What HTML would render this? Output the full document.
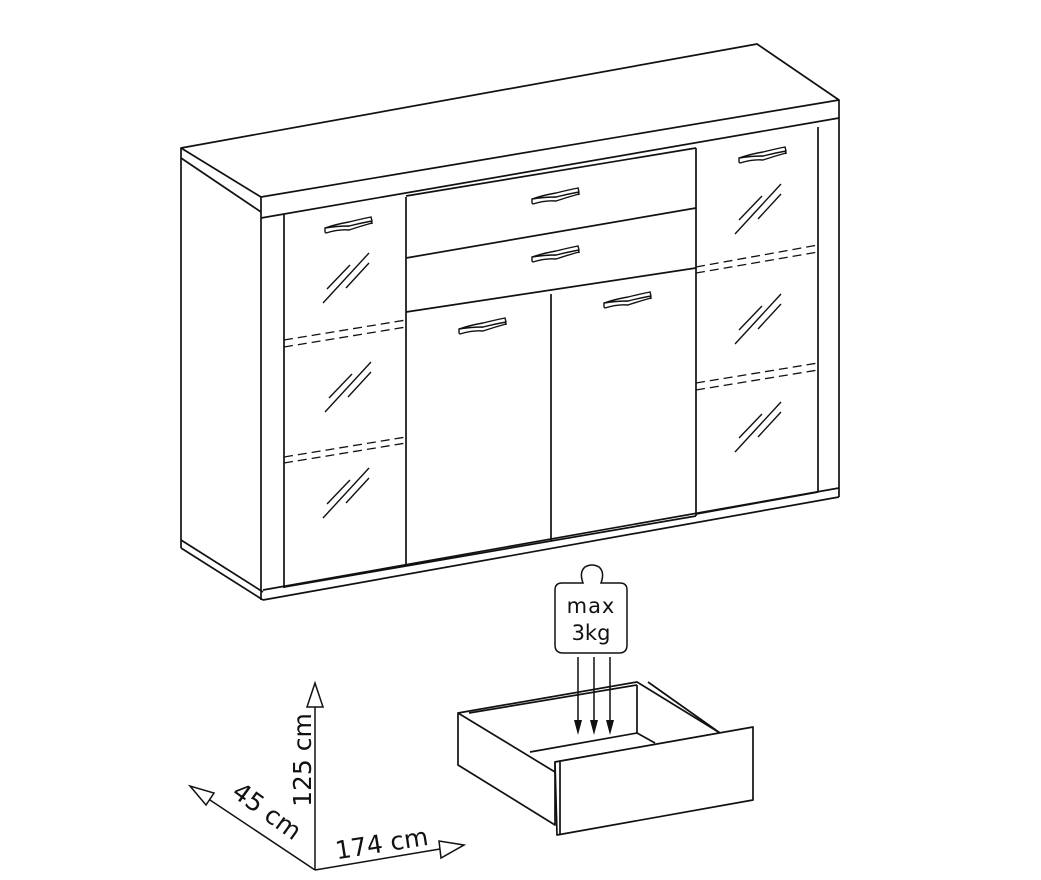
<!DOCTYPE html>
<html><head><meta charset="utf-8"><style>
html,body{margin:0;padding:0;background:#fff;}
svg{display:block}
text{font-family:"DejaVu Sans","Liberation Sans",sans-serif;fill:#111}
</style></head><body>
<svg width="1041" height="880" viewBox="0 0 1041 880" xmlns="http://www.w3.org/2000/svg">
<defs>
<g id="hatch" stroke="#111" stroke-width="1.4" fill="none">
<line x1="0" y1="50" x2="46" y2="0"/>
<line x1="4" y1="36" x2="27" y2="12"/>
<line x1="23" y1="35" x2="46" y2="10"/>
</g>
<g id="handle" stroke="#111" stroke-width="1.4" fill="#fff">
<path d="M0,8 L0,4 Q14,1 24,2 Q36,-2 46,-4 L47,0 L47,-1 Q36,2 24,6 Q14,5 1,9 Z"/>
<path d="M0,4 Q12,0 24,-2 Q36,-5 46,-7 L47,-3 Q36,-1 24,2 Q12,2 0,4 Z"/>
</g>
</defs>
<g stroke="#111" stroke-width="1.7" fill="none" stroke-linejoin="round">
<polygon points="181,148 757,44 839,100 261,197"/>
<line x1="839" y1="100" x2="839" y2="118"/>
<line x1="261" y1="197" x2="261" y2="600"/>
<line x1="261" y1="218" x2="839" y2="118"/>
<line x1="181" y1="148" x2="181" y2="548"/>
<line x1="181" y1="158" x2="261" y2="212"/>
<line x1="181" y1="540" x2="263" y2="592"/>
<line x1="181" y1="548" x2="263" y2="600"/>
<line x1="263" y1="600" x2="839" y2="497"/>
<line x1="263" y1="590" x2="839" y2="488"/>
<line x1="839" y1="118" x2="839" y2="497"/>
<line x1="284" y1="214" x2="284" y2="588"/>
<line x1="406" y1="197" x2="406" y2="566"/>
<line x1="551" y1="294" x2="551" y2="541"/>
<line x1="696" y1="148" x2="696" y2="516"/>
<line x1="818" y1="127" x2="818" y2="492"/>
<line x1="406" y1="258" x2="696" y2="208"/>
<line x1="406" y1="312" x2="696" y2="268"/>
<line x1="406" y1="196" x2="696" y2="148"/>
<line x1="406" y1="566" x2="696" y2="516"/>
<line x1="284" y1="587" x2="406" y2="566"/>
<line x1="696" y1="514" x2="818" y2="492"/>
<g stroke-dasharray="9,5" stroke-width="1.3">
<line x1="284" y1="340" x2="406" y2="320"/>
<line x1="284" y1="347" x2="406" y2="327"/>
<line x1="284" y1="457" x2="406" y2="437"/>
<line x1="284" y1="463" x2="406" y2="443"/>
<line x1="696" y1="267" x2="818" y2="245"/>
<line x1="696" y1="273" x2="818" y2="252"/>
<line x1="696" y1="383" x2="818" y2="363"/>
<line x1="696" y1="390" x2="818" y2="370"/>
</g>
</g>
<use href="#hatch" x="323" y="253"/>
<use href="#hatch" x="325" y="362"/>
<use href="#hatch" x="323" y="468"/>
<use href="#hatch" x="735" y="184"/>
<use href="#hatch" x="735" y="294"/>
<use href="#hatch" x="735" y="402"/>
<use href="#handle" x="325" y="224"/>
<use href="#handle" x="532" y="195"/>
<use href="#handle" x="532" y="253"/>
<use href="#handle" x="459" y="325"/>
<use href="#handle" x="604" y="299"/>
<use href="#handle" x="739" y="154"/>

<g stroke="#111" stroke-width="1.5" fill="none">
<path d="M583,583 Q579,572 585,567 Q592,563 599,567 Q605,572 601,583 L620,583 Q627,583 627,590 L627,645 Q627,653 619,653 L563,653 Q555,653 555,645 L555,590 Q555,583 562,583 Z" fill="#fff"/>
</g>
<text x="591" y="613" font-size="21" text-anchor="middle" letter-spacing="1">max</text>
<text x="591" y="640" font-size="21" text-anchor="middle">3kg</text>
<g stroke="#111" stroke-width="1.5">
<line x1="578" y1="657" x2="578" y2="722"/>
<line x1="594" y1="657" x2="594" y2="722"/>
<line x1="610" y1="657" x2="610" y2="722"/>
</g>
<g fill="#111">
<polygon points="574,720 582,720 578,735"/>
<polygon points="590,720 598,720 594,735"/>
<polygon points="606,720 614,720 610,735"/>
</g>
<g stroke="#111" stroke-width="1.7" fill="none" stroke-linejoin="round">
<polygon points="458,713 637,682 720,733 555,762 555,825 458,765"/>
<line x1="458" y1="713" x2="555" y2="772"/>
<line x1="469" y1="713" x2="637" y2="685"/>
<line x1="637" y1="685" x2="637" y2="733"/>
<line x1="648" y1="682" x2="720" y2="733"/>
<line x1="530" y1="752" x2="637" y2="733"/>
<line x1="637" y1="733" x2="655" y2="743"/>
<polygon points="555,762 753,727 753,800 557,835" fill="#fff"/>
<line x1="560" y1="762" x2="560" y2="834"/>
</g>
<g stroke="#111" stroke-width="1.5" fill="none">
<line x1="315" y1="870" x2="315" y2="707"/>
<polygon points="315,683 307,707 323,707" fill="#fff"/>
<line x1="315" y1="870" x2="207" y2="798"/>
<polygon points="190,786 206,805 214,793" fill="#fff"/>
<line x1="315" y1="870" x2="440" y2="849"/>
<polygon points="464,845 439,841 441,858" fill="#fff"/>
</g>
<text x="0" y="0" font-size="25" text-anchor="middle" transform="translate(311,760) rotate(-90)">125 cm</text>
<text x="0" y="0" font-size="25" text-anchor="middle" transform="translate(262,818) rotate(36)">45 cm</text>
<text x="0" y="0" font-size="25" text-anchor="middle" transform="translate(383,852) rotate(-9)">174 cm</text>
</svg>
</body></html>
